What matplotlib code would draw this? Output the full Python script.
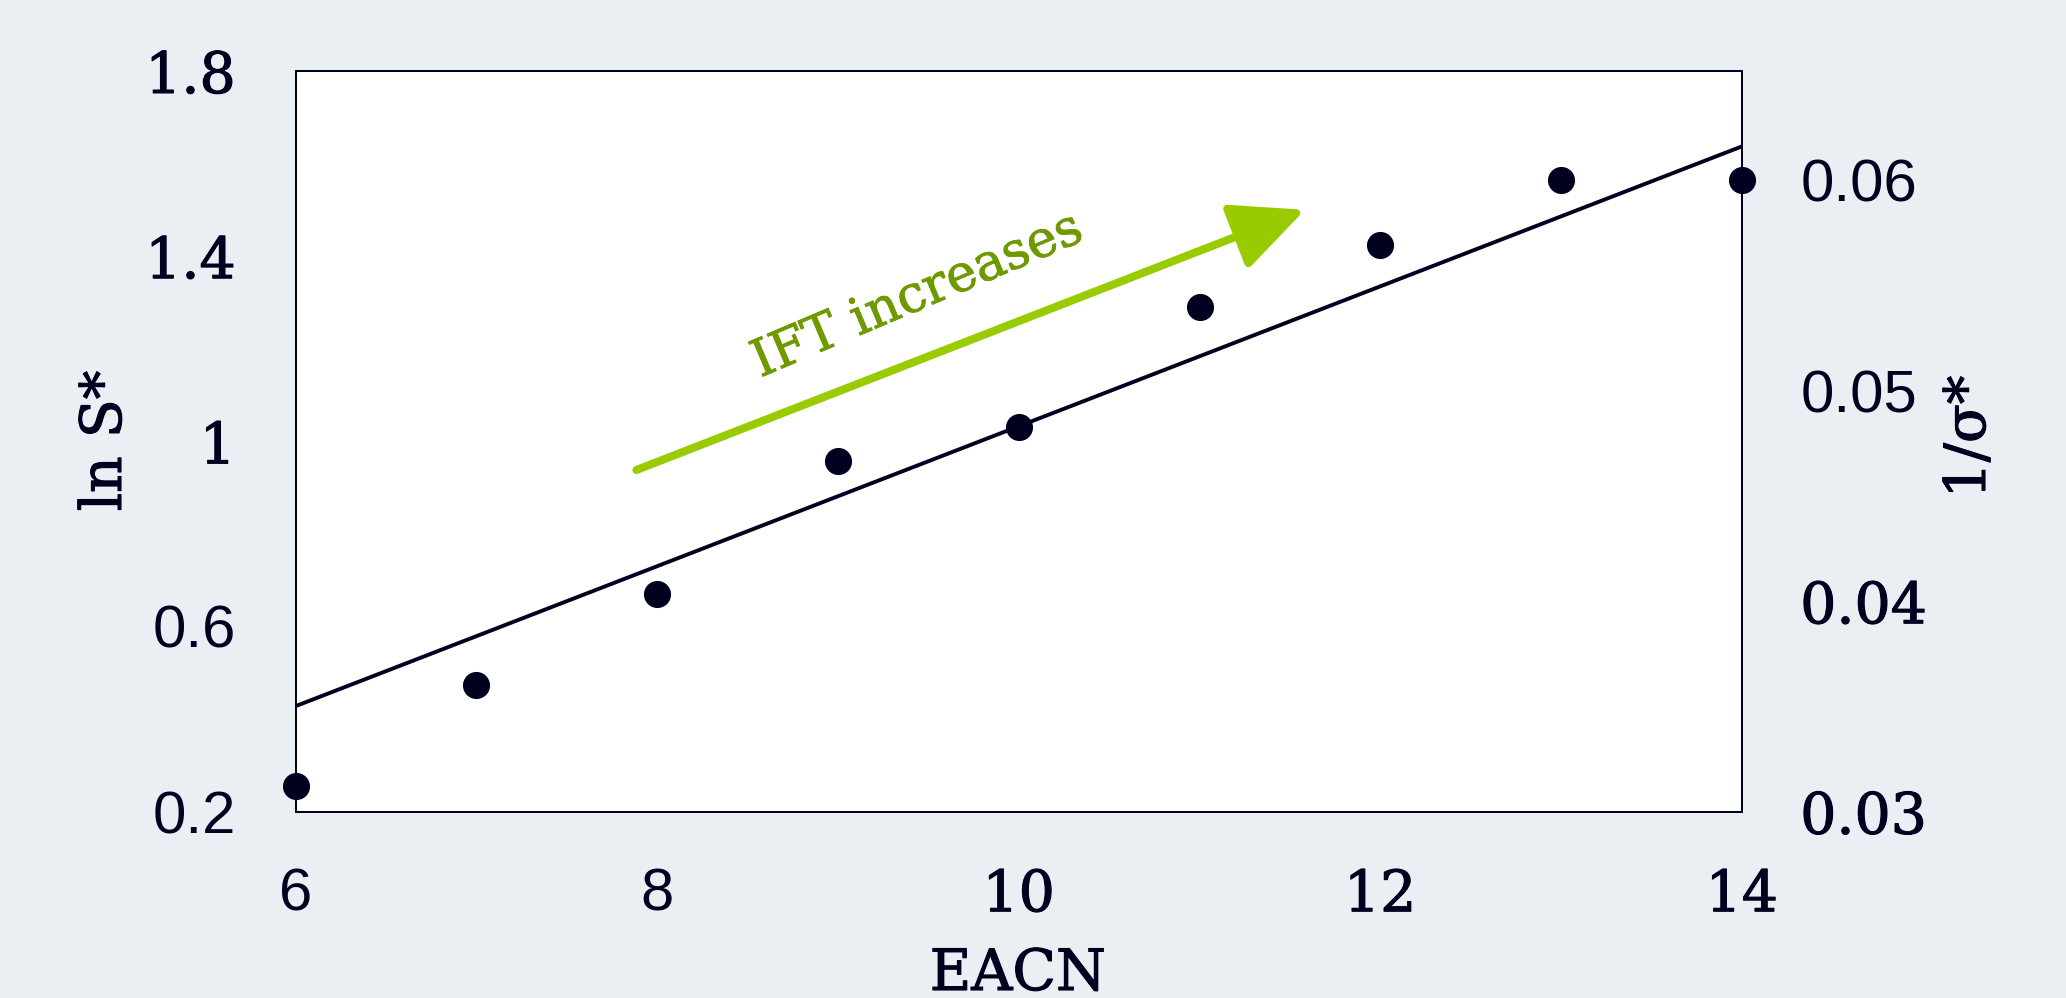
import matplotlib
matplotlib.use("Agg")
import matplotlib.pyplot as plt
import matplotlib.patheffects as pe

# EACN scan: measured points (1/sigma*) and the linear trend of ln S*
eacn = [6, 7, 8, 9, 10, 11, 12, 13, 14]
inv_sigma = [0.03124, 0.03601, 0.04034, 0.04667, 0.04830, 0.05400, 0.05694, 0.0600, 0.0600]
trend_eacn = [6, 14]
trend_ln_s = [0.428, 1.637]

x_ticks = [6, 8, 10, 12, 14]
x_tick_labels = ["6", "8", "10", "12", "14"]
left_ticks = [0.2, 0.6, 1.0, 1.4, 1.8]
left_tick_labels = ["0.2", "0.6", "1", "1.4", "1.8"]
right_ticks = [0.03, 0.04, 0.05, 0.06]
right_tick_labels = ["0.03", "0.04", "0.05", "0.06"]

# which tick labels are set in the sans face
sans_labels = {"0.6", "0.2", "6", "8", "0.06", "0.05"}

# annotation arrow (data coords on the ln S* axis)
arrow_start = (7.885, 0.938)
arrow_end = (11.583, 1.500)
arrow_text = "IFT increases"
arrow_text_pos = (9.44, 1.314)

INK = "#00001f"
BG = "#eaeff3"
SERIF = "DejaVu Serif"
SANS = "Liberation Sans"
FS_SANS = 43
FS_SERIF = 41
heavy = [pe.withStroke(linewidth=0.8, foreground=INK)]

fig = plt.figure(figsize=(20.66, 9.98), dpi=100, facecolor=BG)
ax = fig.add_axes([0.1431, 0.1867, 0.7000, 0.7422])
ax.set_facecolor("white")
ax2 = ax.twinx()

ax.set_xlim(6, 14)
ax.set_ylim(0.2, 1.8)
ax2.set_ylim(0.03, 0.0652)

# trend line (ln S*)
ax.plot(trend_eacn, trend_ln_s, color=INK, lw=2.8, zorder=3)

# measured points (1/sigma*)
ax2.plot(eacn, inv_sigma, "o", color=INK, markersize=18.5, clip_on=False, zorder=4)

# arrow and its caption
ax.annotate("", xy=arrow_end, xytext=arrow_start,
            arrowprops=dict(arrowstyle="-|>,head_length=0.9,head_width=0.42",
                            color="#99cc00", lw=5.8, shrinkA=0, shrinkB=0,
                            mutation_scale=50))
ax.text(*arrow_text_pos, arrow_text, rotation=23, rotation_mode="anchor",
        ha="center", va="center", fontsize=37, family=SERIF, color="#6e9a00",
        path_effects=[pe.withStroke(linewidth=0.6, foreground="#6e9a00")])

for a in (ax, ax2):
    for s in a.spines.values():
        s.set_color(INK)
        s.set_linewidth(1.4)

ax.set_xticks(x_ticks)
ax.set_xticklabels(x_tick_labels)
ax.set_yticks(left_ticks)
ax.set_yticklabels(left_tick_labels)
ax2.set_yticks(right_ticks)
ax2.set_yticklabels(right_tick_labels)

ax.tick_params(axis="x", length=0, pad=40, labelcolor=INK)
ax.tick_params(axis="y", length=0, pad=43, labelcolor=INK)
ax2.tick_params(axis="y", length=0, pad=42, labelcolor=INK)

fig.text(1018 / 2066, 1 - 974 / 998, "EACN", ha="center", va="center",
         fontsize=FS_SERIF, family=SERIF, color=INK, path_effects=heavy)
fig.text(105 / 2066, 1 - 441 / 998, "ln S*", ha="center", va="center",
         rotation=90, fontsize=FS_SERIF, family=SERIF, color=INK, path_effects=heavy)
fig.text(1969 / 2066, 1 - 437 / 998, "1/σ*", ha="center", va="center",
         rotation=90, fontsize=FS_SERIF, family=SERIF, color=INK, path_effects=heavy)

fig.canvas.draw()


def style_ticks(axis, labels):
    for tick, txt in zip(axis.get_major_ticks(), labels):
        for lab in (tick.label1, tick.label2):
            if txt in sans_labels:
                lab.set_fontfamily(SANS)
                lab.set_fontsize(FS_SANS)
                lab.set_path_effects([])
            else:
                lab.set_fontfamily(SERIF)
                lab.set_fontsize(FS_SERIF)
                lab.set_path_effects(heavy)


style_ticks(ax.xaxis, x_tick_labels)
style_ticks(ax.yaxis, left_tick_labels)
style_ticks(ax2.yaxis, right_tick_labels)

fig.savefig("out.png", dpi=100, facecolor=BG)
